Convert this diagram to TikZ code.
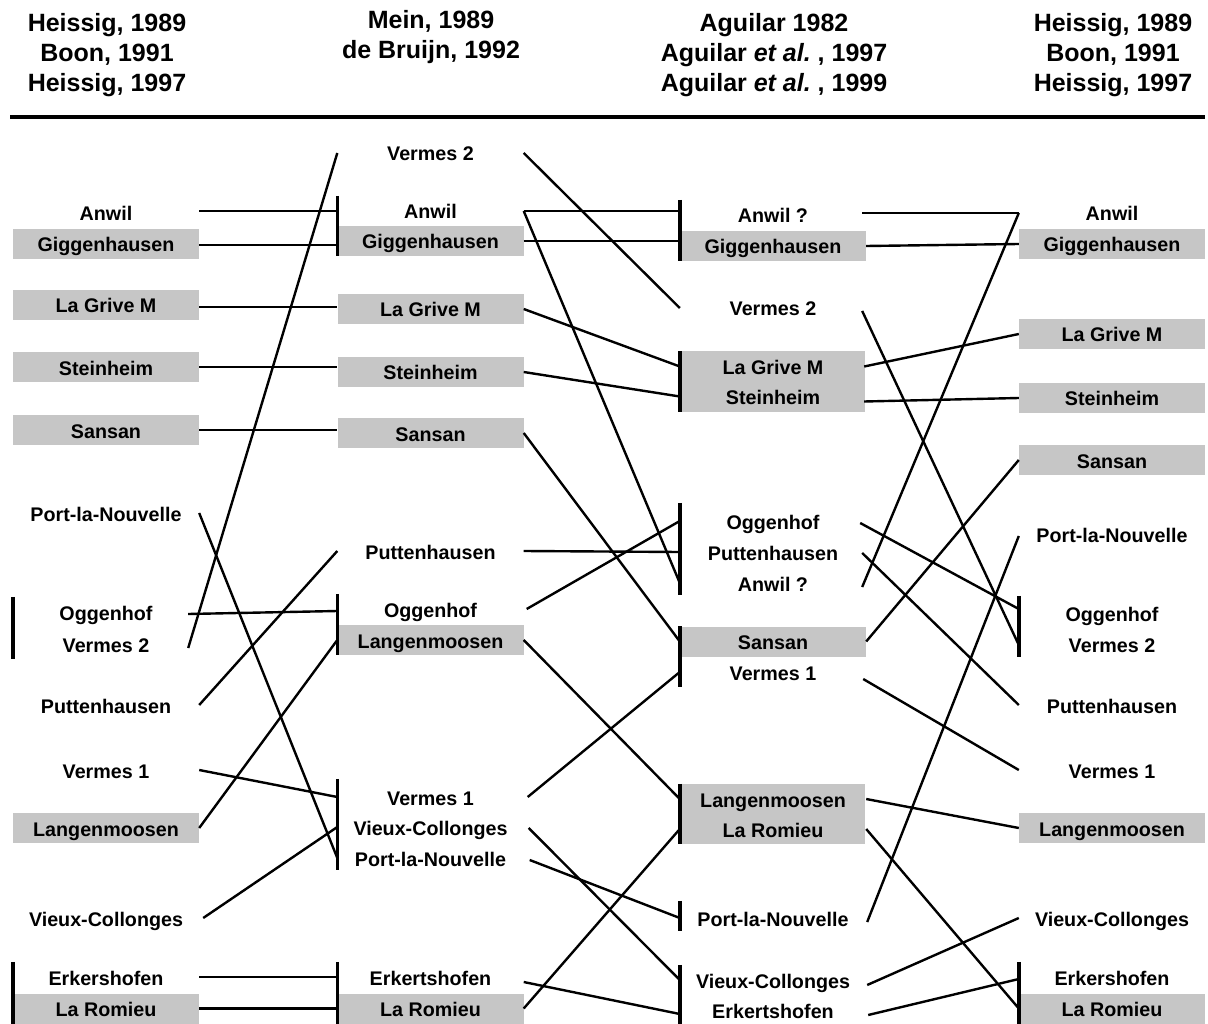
\documentclass[tikz,border=0pt]{standalone}
\usepackage{fontspec}
\setmainfont{Liberation Sans}
\definecolor{boxgray}{RGB}{198,198,198}
\begin{document}
\begin{tikzpicture}[x=1pt,y=-1pt,
  lbl/.style={minimum width=186pt,minimum height=30pt,inner sep=0pt,text height=18pt,text depth=2pt,
    font=\fontsize{19.7}{23}\selectfont\bfseries},
  gbox/.style={lbl,fill=boxgray},
  hdr/.style={anchor=north,inner sep=0pt,align=center,font=\fontsize{25}{30}\selectfont\bfseries},
  conn/.style={line width=2.4pt},
  barline/.style={line width=3.6pt},
  rule/.style={line width=4pt}]
\useasboundingbox (0,0) rectangle (1208,1024);

% headers
\node[hdr] (h1) at (107,13) {Heissig, 1989\\Boon, 1991\\Heissig, 1997};
\node[hdr] (h2) at (431,10) {Mein, 1989\\de Bruijn, 1992};
\node[hdr] (h3) at (774,13) {Aguilar 1982\\Aguilar \textit{et al.}\ , 1997\\Aguilar \textit{et al.}\ , 1999};
\node[hdr] (h4) at (1113,13) {Heissig, 1989\\Boon, 1991\\Heissig, 1997};
\coordinate (rl) at (10,117);
\coordinate (rr) at (1205,117);
\draw[rule] (rl) -- (rr);

% merged boxes in column 3 (drawn first)
\path[fill=boxgray] (681,351.5) rectangle (865,411.5);
\path[fill=boxgray] (681,784) rectangle (865,844);

% column 1
\node[lbl]  (a-anwil)  at (106,213) {Anwil};
\node[gbox] (a-gigg)   at (106,244) {Giggenhausen};
\node[gbox] (a-lgm)    at (106,305) {La Grive M};
\node[gbox] (a-stein)  at (106,367) {Steinheim};
\node[gbox] (a-sansan) at (106,430) {Sansan};
\node[lbl]  (a-pln)    at (106,513) {Port-la-Nouvelle};
\node[lbl]  (a-ogg)    at (106,612) {Oggenhof};
\node[lbl]  (a-v2)     at (106,644) {Vermes 2};
\node[lbl]  (a-putt)   at (106,705) {Puttenhausen};
\node[lbl]  (a-v1)     at (106,770) {Vermes 1};
\node[gbox] (a-lang)   at (106,828) {Langenmoosen};
\node[lbl]  (a-vc)     at (106,918) {Vieux-Collonges};
\node[lbl]  (a-erk)    at (106,977) {Erkershofen};
\node[gbox] (a-lar)    at (106,1008.5) {La Romieu};

% column 2
\node[lbl]  (b-v2)     at (430.5,153) {Vermes 2};
\node[lbl]  (b-anwil)  at (430.5,211) {Anwil};
\node[gbox] (b-gigg)   at (430.5,241) {Giggenhausen};
\node[gbox] (b-lgm)    at (430.5,309) {La Grive M};
\node[gbox] (b-stein)  at (430.5,372) {Steinheim};
\node[gbox] (b-sansan) at (430.5,433) {Sansan};
\node[lbl]  (b-putt)   at (430.5,551) {Puttenhausen};
\node[lbl]  (b-ogg)    at (430.5,609) {Oggenhof};
\node[gbox] (b-lang)   at (430.5,640) {Langenmoosen};
\node[lbl]  (b-v1)     at (430.5,797) {Vermes 1};
\node[lbl]  (b-vc)     at (430.5,827) {Vieux-Collonges};
\node[lbl]  (b-pln)    at (430.5,858) {Port-la-Nouvelle};
\node[lbl]  (b-erk)    at (430.5,977) {Erkertshofen};
\node[gbox] (b-lar)    at (430.5,1008.5) {La Romieu};

% column 3
\node[lbl]  (c-anwil1) at (773,215) {Anwil ?};
\node[gbox] (c-gigg)   at (773,246) {Giggenhausen};
\node[lbl]  (c-v2)     at (773,308) {Vermes 2};
\node[lbl]  (c-lgm)    at (773,366.5) {La Grive M};
\node[lbl]  (c-stein)  at (773,396.5) {Steinheim};
\node[lbl]  (c-ogg)    at (773,521) {Oggenhof};
\node[lbl]  (c-putt)   at (773,552) {Puttenhausen};
\node[lbl]  (c-anwil2) at (773,583) {Anwil ?};
\node[gbox] (c-sansan) at (773,641.5) {Sansan};
\node[lbl]  (c-v1)     at (773,672) {Vermes 1};
\node[lbl]  (c-lang)   at (773,799) {Langenmoosen};
\node[lbl]  (c-lar)    at (773,829) {La Romieu};
\node[lbl]  (c-pln)    at (773,918) {Port-la-Nouvelle};
\node[lbl]  (c-vc)     at (773,980) {Vieux-Collonges};
\node[lbl]  (c-erk)    at (773,1010) {Erkertshofen};

% column 4
\node[lbl]  (d-anwil)  at (1112,213) {Anwil};
\node[gbox] (d-gigg)   at (1112,244) {Giggenhausen};
\node[gbox] (d-lgm)    at (1112,334) {La Grive M};
\node[gbox] (d-stein)  at (1112,398) {Steinheim};
\node[gbox] (d-sansan) at (1112,460) {Sansan};
\node[lbl]  (d-pln)    at (1112,534) {Port-la-Nouvelle};
\node[lbl]  (d-ogg)    at (1112,613) {Oggenhof};
\node[lbl]  (d-v2)     at (1112,644) {Vermes 2};
\node[lbl]  (d-putt)   at (1112,705) {Puttenhausen};
\node[lbl]  (d-v1)     at (1112,770) {Vermes 1};
\node[gbox] (d-lang)   at (1112,828) {Langenmoosen};
\node[lbl]  (d-vc)     at (1112,918) {Vieux-Collonges};
\node[lbl]  (d-erk)    at (1112,977) {Erkershofen};
\node[gbox] (d-lar)    at (1112,1008.5) {La Romieu};

% bars (brackets)
\draw[barline] (a-ogg.north west) -- (a-v2.south west);
\draw[barline] (a-erk.north west) -- (a-lar.south west);
\draw[barline] (b-anwil.north west) -- (b-gigg.south west);
\draw[barline] (b-ogg.north west) -- (b-lang.south west);
\draw[barline] ([yshift=3pt]b-v1.north west) -- ([yshift=3pt]b-pln.south west);
\draw[barline] (b-erk.north west) -- (b-lar.south west);
\draw[barline] (c-anwil1.north west) -- (c-gigg.south west);
\draw[barline] (c-lgm.north west) -- (c-stein.south west);
\draw[barline] ([yshift=3pt]c-ogg.north west) -- ([yshift=3pt]c-anwil2.south west);
\draw[barline] (c-sansan.north west) -- (c-v1.south west);
\draw[barline] (c-lang.north west) -- (c-lar.south west);
\draw[barline] ([yshift=2pt]c-pln.north west) -- ([yshift=2pt]c-pln.south west);
\draw[barline] (c-vc.north west) -- (c-erk.south west);
\draw[barline] ([yshift=2pt]d-ogg.north west) -- ([yshift=2pt]d-v2.south west);
\draw[barline] (d-erk.north west) -- (d-lar.south west);

% connectors col1 - col2
\draw[conn] (b-anwil.west -| a-anwil.east) -- (b-anwil.west);
\draw[conn] ([yshift=-1pt]a-gigg.east) -- ([yshift=-1pt]a-gigg.east -| b-gigg.west);
\draw[conn] ([yshift=-2pt]a-lgm.east) -- ([yshift=-2pt]a-lgm.east -| b-lgm.west);
\draw[conn] (a-stein.east) -- (a-stein.east -| b-stein.west);
\draw[conn] (a-sansan.east) -- (a-sansan.east -| b-sansan.west);
\draw[conn] ([xshift=-11pt,yshift=-4pt]a-v2.east) -- (b-v2.west);
\draw[conn] (a-pln.east) -- (b-pln.west);
\draw[conn] ([xshift=-11pt,yshift=-2pt]a-ogg.east) -- ([yshift=-2pt]b-ogg.west);
\draw[conn] (a-putt.east) -- (b-putt.west);
\draw[conn] (a-v1.east) -- (b-v1.west);
\draw[conn] (a-lang.east) -- (b-lang.west);
\draw[conn] ([xshift=4pt]a-vc.east) -- (b-vc.west);
\draw[conn] (a-erk.east) -- (b-erk.west);
\draw[conn] (a-lar.east) -- (b-lar.west);

% connectors col2 - col3
\draw[conn] (b-v2.east) -- (c-v2.west);
\draw[conn] (b-anwil.east) -- (b-anwil.east -| c-anwil1.west);
\draw[conn] (b-anwil.east) -- (c-anwil2.west);
\draw[conn] (b-gigg.east) -- (b-gigg.east -| c-gigg.west);
\draw[conn] (b-lgm.east) -- (c-lgm.west);
\draw[conn] (b-stein.east) -- (c-stein.west);
\draw[conn] (b-sansan.east) -- (c-sansan.west);
\draw[conn] (b-putt.east) -- (c-putt.west);
\draw[conn] ([xshift=3pt]b-ogg.east) -- (c-ogg.west);
\draw[conn] (b-lang.east) -- (c-lang.west);
\draw[conn] ([xshift=4pt]b-v1.east) -- (c-v1.west);
\draw[conn] ([xshift=5pt,yshift=-1pt]b-vc.east) -- (c-vc.west);
\draw[conn] ([xshift=6pt,yshift=-2pt]b-pln.east) -- (c-pln.west);
\draw[conn] ([yshift=-5pt]b-erk.east) -- ([yshift=-4pt]c-erk.west);
\draw[conn] (b-lar.east) -- (c-lar.west);

% connectors col3 - col4
\draw[conn] ([xshift=-4pt,yshift=2pt]c-anwil1.east) -- (d-anwil.west);
\draw[conn] ([xshift=-4pt,yshift=-4pt]c-anwil2.east) -- (d-anwil.west);
\draw[conn] (c-gigg.east) -- (d-gigg.west);
\draw[conn] ([xshift=-4pt,yshift=-3pt]c-v2.east) -- ([yshift=-1pt]d-v2.west);
\draw[conn] ([xshift=-2pt]c-lgm.east) -- (d-lgm.west);
\draw[conn] ([xshift=-2pt,yshift=-5pt]c-stein.east) -- (d-stein.west);
\draw[conn] ([xshift=-6pt,yshift=-2pt]c-ogg.east) -- ([yshift=4pt]d-ogg.west);
\draw[conn] ([xshift=-4pt,yshift=-1pt]c-putt.east) -- (d-putt.west);
\draw[conn] (c-sansan.east) -- (d-sansan.west);
\draw[conn] ([xshift=-3pt,yshift=-7pt]c-v1.east) -- (d-v1.west);
\draw[conn] ([xshift=1pt,yshift=-4pt]c-pln.east) -- ([yshift=-2pt]d-pln.west);
\draw[conn] (c-lang.east) -- (d-lang.west);
\draw[conn] (c-lar.east) -- (d-lar.west);
\draw[conn] ([xshift=1pt,yshift=-5pt]c-vc.east) -- (d-vc.west);
\draw[conn] ([xshift=2pt,yshift=-5pt]c-erk.east) -- ([yshift=-2pt]d-erk.west);
\end{tikzpicture}
\end{document}
